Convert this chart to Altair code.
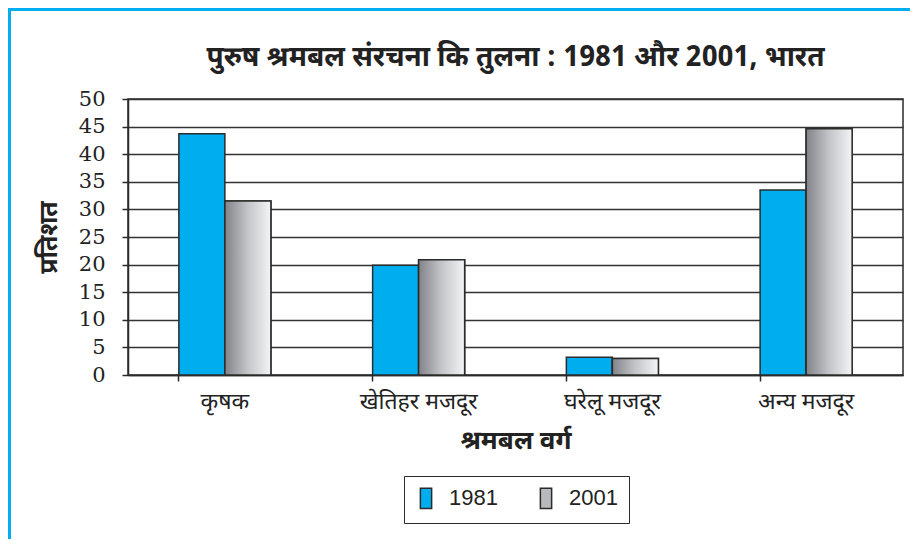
import altair as alt
import pandas as pd

categories = ["कृषक", "खेतिहर मजदूर", "घरेलू मजदूर", "अन्य मजदूर"]
years = ["1981", "2001"]
v1981 = [43.7, 19.9, 3.2, 33.5]
v2001 = [31.5, 20.9, 3.0, 44.6]
y_ticks = [0, 5, 10, 15, 20, 25, 30, 35, 40, 45, 50]

rows = []
for c, a, b in zip(categories, v1981, v2001):
    rows.append({"cat": c, "year": "1981", "value": a})
    rows.append({"cat": c, "year": "2001", "value": b})
df = pd.DataFrame(rows)

DEVA = "Noto Sans Devanagari, Lohit Devanagari, Noto Sans, sans-serif"
BLUE = "#00AEEF"
EDGE = "#2b2b2b"

gray_grad = alt.LinearGradient(
    gradient="linear",
    stops=[alt.GradientStop(color="#828388", offset=0),
           alt.GradientStop(color="#c4c5c8", offset=0.5),
           alt.GradientStop(color="#f3f4f6", offset=1)],
    x1=0, x2=1, y1=0, y2=0,
)

x_enc = alt.X(
    "cat:N", sort=categories,
    scale=alt.Scale(paddingInner=0.525, paddingOuter=0.2625),
    axis=alt.Axis(
        title="श्रमबल वर्ग", titleFont=DEVA, titleFontSize=26, titleFontWeight="bold",
        titleColor="#222", titlePadding=14,
        labelFont=DEVA, labelFontSize=23, labelColor="#222", labelPadding=9,
        labelAngle=0, bandPosition=0, tickSize=6, tickColor=EDGE, tickWidth=1.5,
        domainColor=EDGE, domainWidth=1.5, grid=False,
    ),
)
xoff = alt.XOffset("year:N", scale=alt.Scale(domain=years, paddingInner=0, paddingOuter=0))
y_enc = alt.Y(
    "value:Q",
    scale=alt.Scale(domain=[0, 50], nice=False),
    axis=alt.Axis(
        values=y_ticks, title="प्रतिशत", titleFont=DEVA, titleFontSize=25,
        titleFontWeight="bold", titleColor="#222", titlePadding=17,
        labelFont="DejaVu Serif", labelFontSize=21, labelColor="#222",
        labelPadding=17, tickSize=6, tickColor=EDGE, tickWidth=1.5,
        domainColor=EDGE, domainWidth=1.5, grid=True, gridColor="#333",
        gridWidth=1.5,
    ),
)

bars = alt.Chart(df).mark_bar(stroke=EDGE, strokeWidth=1.5).encode(
    x=x_enc, xOffset=xoff, y=y_enc,
    color=alt.Color(
        "year:N",
        scale=alt.Scale(domain=years, range=[BLUE, "#b8b9bc"]),
        legend=alt.Legend(
            title=None, orient="none", legendX=276, legendY=377,
            direction="horizontal", columns=2, columnPadding=37,
            labelFont="Liberation Sans", labelFontSize=22, labelColor="#222",
            labelOffset=12,
            symbolType="M-0.55,-1 L0.55,-1 L0.55,1 L-0.55,1 Z",
            symbolSize=420, symbolStrokeColor=EDGE, symbolStrokeWidth=1.5,
            symbolOpacity=1, strokeColor=EDGE, padding=11,
        ),
    ),
)

grad_bars = alt.Chart(df).transform_filter(alt.datum.year == "2001").mark_bar(
    fill=gray_grad, stroke=EDGE, strokeWidth=1.5
).encode(x=x_enc, xOffset=xoff, y=y_enc)

frame_l = alt.Chart(df).mark_rule(color=BLUE, strokeWidth=3).encode(
    x=alt.value(-118.5), y=alt.value(-90), y2=alt.value(440)
)
frame_t = alt.Chart(df).mark_rule(color=BLUE, strokeWidth=3).encode(
    x=alt.value(-120), x2=alt.value(782), y=alt.value(-89.5)
)

chart = alt.layer(bars, grad_bars, frame_l, frame_t).properties(
    width=775, height=276,
    autosize=alt.AutoSizeParams(type="none"),
    padding={"left": 120, "top": 91, "right": 7, "bottom": 165},
    title=alt.TitleParams(
        "पुरुष श्रमबल संरचना कि तुलना : 1981 और 2001, भारत",
        font=DEVA, fontSize=28, fontWeight="bold", color="#222", offset=0,
        dy=64, frame="group",
    ),
).configure_view(stroke=EDGE, strokeWidth=1.5)

chart.save("out.html", embed_options={"renderer": "svg", "actions": False})
